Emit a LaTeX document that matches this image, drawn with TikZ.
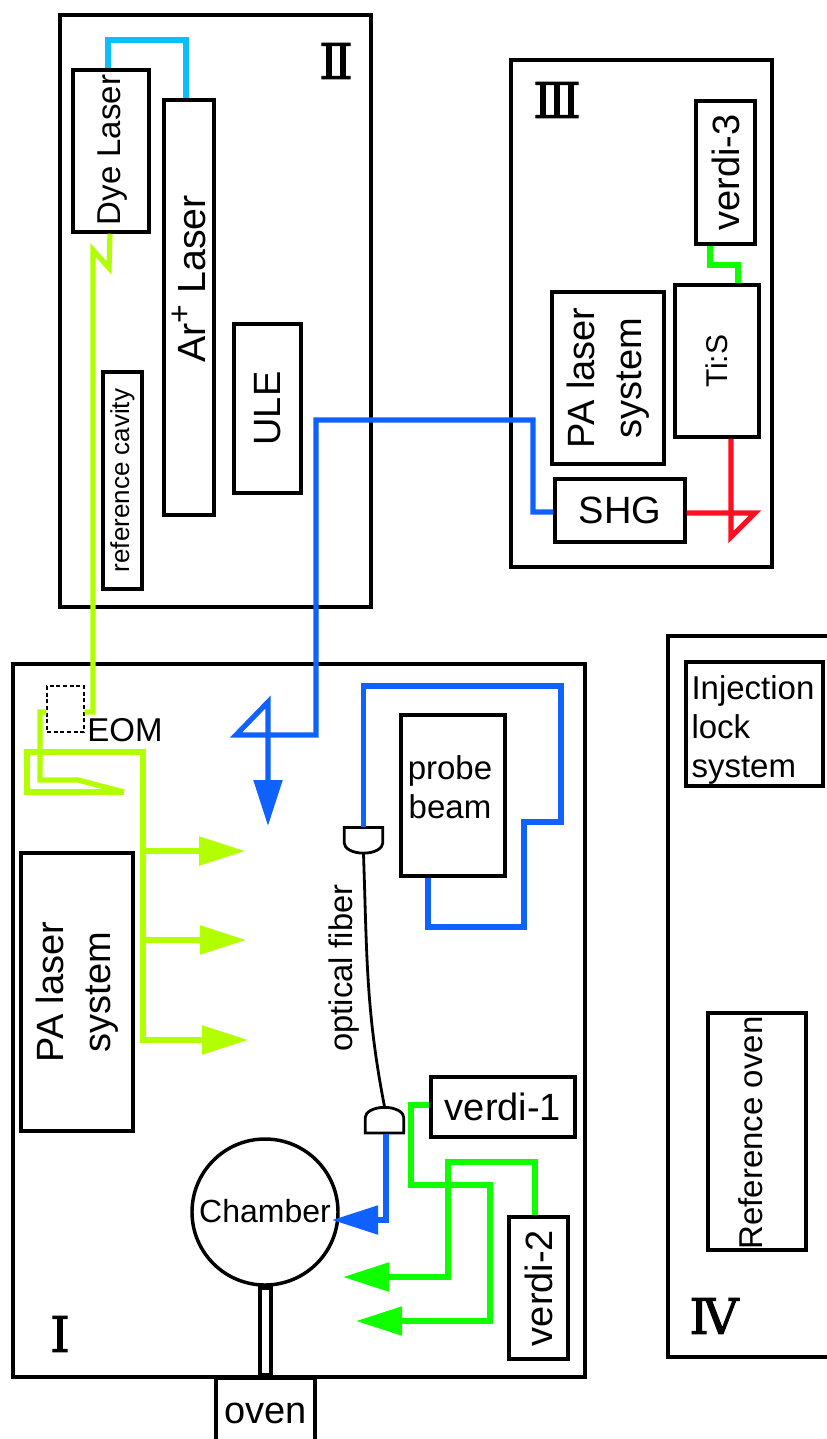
\documentclass[tikz,border=0pt]{standalone}
\usepackage{fontspec}
\setmainfont{Liberation Sans}
\newfontfamily\romanfont[FakeBold=2]{DejaVu Serif}
\usetikzlibrary{arrows.meta, shapes.gates.logic.US}
\definecolor{beamblue}{RGB}{15,98,255}
\definecolor{beamcyan}{RGB}{10,190,255}
\definecolor{beamlime}{RGB}{178,255,0}
\definecolor{beamgreen}{RGB}{16,255,0}
\definecolor{beamred}{RGB}{255,16,32}
\newcommand{\px}{0.75pt}
\tikzset{
  boxsize/.style 2 args={minimum width=#1*\px, minimum height=#2*\px},
  fontbig/.style={font=\fontsize{28.5}{35}\selectfont},
  fontmid/.style={font=\fontsize{24.75}{29.5}\selectfont},
  fontsmall/.style={font=\fontsize{19.5}{23}\selectfont},
  fontroman/.style={font=\romanfont\fontsize{37}{40}\selectfont}
}

\begin{document}
\begin{tikzpicture}[x=0.75pt, y=-0.75pt]
\tikzstyle{panel}=[draw, line width=2.7pt, inner sep=0pt]
\tikzstyle{unit}=[draw, line width=2.6pt, inner sep=0pt, align=center]
\tikzstyle{beam}=[line width=3.9pt]
\tikzstyle{headed}=[-{Stealth[inset=0pt,length=34.5pt,width=21pt]}]
\tikzstyle{coupler}=[and gate US, draw, line width=2.1pt, inner sep=0pt, minimum width=19.5pt, minimum height=29pt, xscale=0.53, transform shape]
\clip (0,0) rectangle (827,1439);

% the four tables
\node[panel, boxsize={311}{592}] (tableII) at (215.5,311) {};
\node[panel, boxsize={261}{507}] (tableIII) at (641.5,313.5) {};
\node[panel, boxsize={572}{713}] (tableI) at (299,1020.5) {};
\node[panel, boxsize={232}{721}] (tableIV) at (784,996.5) {};
\node[fontroman] (numII) at (336,61) {Ⅱ};
\node[fontroman] (numIII) at (557,100) {Ⅲ};
\node[fontroman] (numI) at (60,1334) {Ⅰ};
\node[fontroman] (numIV) at (714,1316) {Ⅳ};

% table II
\node[unit, rotate=90, boxsize={162}{76}] (dye) at (111,151) {};
\node[fontmid, rotate=90] (dyetext) at (113,150) {Dye Laser};
\node[unit, rotate=90, boxsize={415}{50}] (argon) at (189,307.5) {};
\node[font=\fontsize{29.5}{35}\selectfont, rotate=90] (argontext) at (189,279) {Ar\raisebox{.4em}{\fontsize{24}{24}\selectfont +} Laser};
\node[unit, fontbig, rotate=90, boxsize={169}{67}] (ule) at (267.5,408.5) {ULE};
\node[unit, fontsmall, rotate=90, boxsize={217}{39}] (refcav) at (122.5,480.5) {reference cavity};

% table III
\node[unit, fontbig, rotate=90, boxsize={143}{59}] (verdiC) at (725.5,172.5) {verdi-3};
\node[unit, font=\fontsize{22.5}{26}\selectfont, rotate=90, boxsize={152}{84}] (tis) at (717,361) {Ti:S};
\node[unit, fontbig, rotate=90, boxsize={172}{112}] (paIII) at (608,378) {PA laser\\system};
\node[unit, fontbig, boxsize={130}{63}] (shg) at (620,510.5) {SHG};

% table I
\node[draw, densely dashed, line width=1.1pt, boxsize={37}{46}] (eom) at (65.5,709) {};
\node[fontmid] (eomtext) at (125,730) {EOM};
\node[unit, fontbig, rotate=90, boxsize={278}{112}] (paI) at (77,992) {PA laser\\system};
\node[unit, boxsize={104}{161}] (probe) at (453,795.5) {};
\node[fontmid, align=center] (probetext) at (450,787) {probe\\beam};
\node[unit, fontbig, boxsize={144}{60}] (verdiA) at (503,1107) {verdi-1};
\node[unit, fontbig, rotate=90, boxsize={142}{59}] (verdiB) at (538.5,1288) {verdi-2};
\node[unit, circle, minimum size=146*\px] (chamber) at (265,1212) {};
\node[font=\fontsize{24}{28}\selectfont] (chambertext) at (265,1211) {Chamber};
\node[unit, boxsize={11}{87}] (pipe) at (265.5,1331.5) {};
\node[unit, fontbig, boxsize={99}{70}] (oven) at (265.5,1413) {oven};
\node[rotate=-90, coupler] (fibertop) at (363.5,839.5) {};
\node[rotate=90, coupler] (fiberbot) at (384.5,1121) {};
\node[font=\fontsize{24.5}{28}\selectfont, rotate=90] (fibertext) at (344,968) {optical fiber};

% table IV
\node[unit, boxsize={137}{124}] (inject) at (754.5,724) {};
\node[fontmid, align=left] (injecttext) at (753,730) {Injection\\lock\\system};
\node[unit, rotate=90, boxsize={237}{98}] (refoven) at (757,1131.5) {};
\node[fontmid, rotate=90] (refoventext) at (751,1133) {Reference oven};

% free ends of the beams
\coordinate (tipA) at (245,851);
\coordinate (tipB) at (246,940);
\coordinate (tipC) at (248,1040);
\coordinate (tipD) at (268,826);
\coordinate (tipE) at (343,1277);
\coordinate (tipF) at (356,1321);
\coordinate (tipG) at (332,1220);
\coordinate (fold) at (124,792);

% pump light
\draw[beam, beamcyan] (108,0 |- dye.east) -- (108,40) -- (186,40) -- (186,0 |- argon.east);
\draw[beam, beamgreen] (710,0 |- verdiC.west) -- (710,265) -- (738,265) -- (738,0 |- tis.east);
\draw[beam, beamred] (731,0 |- tis.west) -- (731,537) -- (755,513) -- (shg.east |- 0,513);

% dye laser light
\draw[beam, beamlime] (110,0 |- dye.west) -- (109,268) -- (93,250) -- (93,712) -- (eom.east |- 0,712);
\draw[beam, beamlime] (eom.west |- 0,712) -- (40,712) -- (40,780) -- (78,780) -- (fold);
\draw[beam, beamlime, headed] (fold) -- (27,792) -- (27,752) -- (143,752) -- (143,1040) -- (tipC);
\draw[beam, beamlime, headed] (143,851) -- (tipA);
\draw[beam, beamlime, headed] (143,940) -- (tipB);

% blue light
\draw[beam, beamblue, headed] (shg.west |- 0,512) -- (533,512) -- (533,420) -- (316,420) -- (316,735) -- (236,735) -- (268,702) -- (tipD);
\draw[beam, beamblue] (fibertop.west) -- (363.5,686) -- (561,686) -- (561,822) -- (524,822) -- (524,927) -- (428,927) -- (428,0 |- probe.south);
\draw[beam, beamblue, headed] (386,0 |- fiberbot.west) -- (386,1220) -- (tipG);

% fiber
\draw[line width=2.1pt] (fibertop.east) to[out=-88, in=101] (fiberbot.east);

% green light
\draw[beam, beamgreen, headed] (verdiA.west |- 0,1105) -- (411,1105) -- (411,1185) -- (490,1185) -- (490,1321) -- (tipF);
\draw[beam, beamgreen, headed] (535,0 |- verdiB.east) -- (535,1162) -- (448,1162) -- (448,1277) -- (tipE);
\end{tikzpicture}
\end{document}
